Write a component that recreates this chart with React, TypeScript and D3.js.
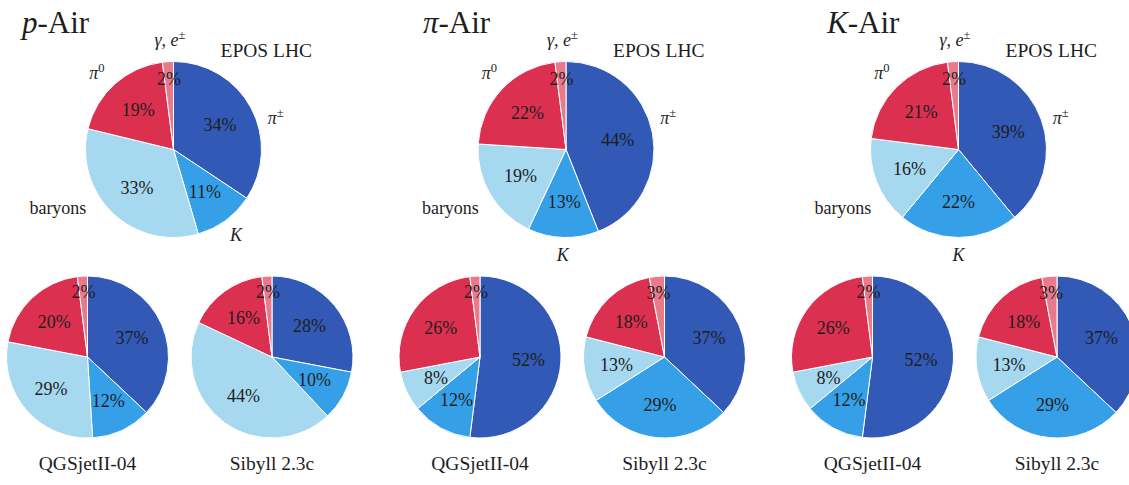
import React from "react";
import * as d3 from "d3";

// ---------- data ----------
const categories = ["π±", "K", "baryons", "π0", "γ,e±"];
const projectiles = ["p", "π", "K"];
const models = ["EPOS LHC", "QGSjetII-04", "Sibyll 2.3c"];

const pAirEPOS = [34, 11, 33, 19, 2];
const pAirQGS = [37, 12, 29, 20, 2];
const pAirSibyll = [28, 10, 44, 16, 2];

const piAirEPOS = [44, 13, 19, 22, 2];
const piAirQGS = [52, 12, 8, 26, 2];
const piAirSibyll = [37, 29, 13, 18, 3];

const kAirEPOS = [39, 22, 16, 21, 2];
const kAirQGS = [52, 12, 8, 26, 2];
const kAirSibyll = [37, 29, 13, 18, 3];

const groupValues = [
  [pAirEPOS, pAirQGS, pAirSibyll],
  [piAirEPOS, piAirQGS, piAirSibyll],
  [kAirEPOS, kAirQGS, kAirSibyll],
];

// ---------- style / layout ----------
const colors = ["#3159b5", "#35a0e8", "#a6d8f0", "#dc3050", "#e87a8c"];
const W = 1129;
const H = 485;
const TEXT = "#1e1e1e";
const FONT = "Liberation Serif";
const TS = { fontFamily: FONT };

const topX = d3.scaleLinear().domain([0, 2]).range([173.5, 958.5]);
const topY = 149.5;
const topR = 88;
const botY = 357;
const botR = 81;
const botOffsets = [-86, 98.5];
const titleX = [22, 423, 827];

const pie = d3
  .pie<number>()
  .sort(null)
  .value((d) => d);

function catLabel(i: number, fs: number) {
  const sup = fs * 0.7;
  switch (i) {
    case 0:
      return (
        <>
          <tspan fontStyle="italic">π</tspan>
          <tspan fontSize={sup} dy={-fs * 0.4}>±</tspan>
        </>
      );
    case 1:
      return <tspan fontStyle="italic">K</tspan>;
    case 2:
      return <tspan>baryons</tspan>;
    case 3:
      return (
        <>
          <tspan fontStyle="italic">π</tspan>
          <tspan fontSize={sup} dy={-fs * 0.4}>0</tspan>
        </>
      );
    default:
      return (
        <>
          <tspan fontStyle="italic">γ</tspan>
          <tspan>, </tspan>
          <tspan fontStyle="italic">e</tspan>
          <tspan fontSize={sup} dy={-fs * 0.4}>±</tspan>
        </>
      );
  }
}

function Pie({
  values,
  cx,
  cy,
  r,
  showLabels,
}: {
  values: number[];
  cx: number;
  cy: number;
  r: number;
  showLabels: boolean;
}) {
  const arcs = pie(values);
  const arc = d3.arc<d3.PieArcDatum<number>>().innerRadius(0).outerRadius(r);
  const pctArc = (k: number) =>
    d3.arc<d3.PieArcDatum<number>>().innerRadius(k * r).outerRadius(k * r);
  const labelFs = 18;
  return (
    <g transform={`translate(${cx},${cy})`}>
      {arcs.map((a, i) => (
        <path key={i} d={arc(a) || ""} fill={colors[i]} stroke="#ffffff" strokeWidth={1} />
      ))}
      {arcs.map((a, i) => {
        const k = a.data < 5 ? 0.8 : 0.6;
        const [x, y] = pctArc(k).centroid(a);
        return (
          <text
            key={"p" + i}
            x={x}
            y={y + 6}
            textAnchor="middle"
            fontFamily={FONT}
            style={TS}
            fontSize={18}
            fill={TEXT}
          >
            {a.data}%
          </text>
        );
      })}
      {showLabels && (
        <g fontSize={labelFs} fill={TEXT}>
          <text x={1.07 * r} y={-0.36 * r + 6} textAnchor="start" fontFamily={FONT} style={TS}>
            {catLabel(0, labelFs)}
          </text>
          {(() => {
            const a = arcs[1];
            const mid = (a.startAngle + a.endAngle) / 2;
            const d = 1.2 * r;
            return (
              <text
                x={d * Math.sin(mid)}
                y={-d * Math.cos(mid) + 6}
                textAnchor="middle"
                fontFamily={FONT}
                style={TS}
              >
                {catLabel(1, labelFs)}
              </text>
            );
          })()}
          <text x={-0.99 * r} y={0.66 * r + 6} textAnchor="end" fontFamily={FONT} style={TS}>
            {catLabel(2, labelFs)}
          </text>
          <text x={-0.87 * r} y={-0.87 * r + 6} textAnchor="middle" fontFamily={FONT} style={TS}>
            {catLabel(3, labelFs)}
          </text>
          <text x={-0.04 * r} y={-1.24 * r + 6} textAnchor="middle" fontFamily={FONT} style={TS}>
            {catLabel(4, labelFs)}
          </text>
        </g>
      )}
    </g>
  );
}

export default function App() {
  return (
    <svg
      width={W}
      height={H}
      viewBox={`0 0 ${W} ${H}`}
      style={{ position: "absolute", left: 0, top: 0, background: "#ffffff" }}
    >
      <style>{`svg text, svg tspan { font-family: "Liberation Serif", serif !important; }`}</style>
      {groupValues.map((vals, g) => {
        const cx = topX(g);
        return (
          <g key={g}>
            <text x={titleX[g]} y={33} fontSize={31} fill={TEXT} fontFamily={FONT} style={TS}>
              <tspan fontStyle="italic">{projectiles[g]}</tspan>
              <tspan>-Air</tspan>
            </text>
            <text x={cx + 47} y={57} fontSize={19.5} fill={TEXT} fontFamily={FONT} style={TS}>
              {models[0]}
            </text>
            <Pie values={vals[0]} cx={cx} cy={topY} r={topR} showLabels={true} />
            {[1, 2].map((m) => {
              const bx = cx + botOffsets[m - 1];
              return (
                <g key={m}>
                  <Pie values={vals[m]} cx={bx} cy={botY} r={botR} showLabels={false} />
                  <text
                    x={bx}
                    y={470}
                    textAnchor="middle"
                    fontSize={19.5}
                    fill={TEXT}
                    fontFamily={FONT}
                    style={TS}
                  >
                    {models[m]}
                  </text>
                </g>
              );
            })}
          </g>
        );
      })}
    </svg>
  );
}
